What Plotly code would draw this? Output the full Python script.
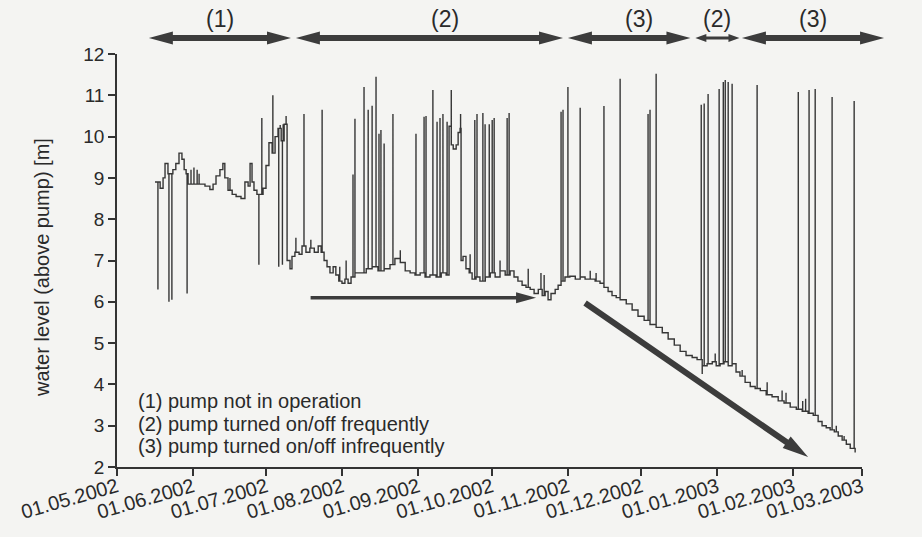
import numpy as np
import pandas as pd
import plotly.graph_objects as go

START = pd.Timestamp("2002-05-01")
END = pd.Timestamp("2003-03-01")

# Logged water level: step values (days since 01.05.2002, metres above pump)
base_day = [15.5, 17.6, 18.8, 19.6, 20.8, 22.8, 24.0, 25.3, 26.5, 27.4, 28.2, 29.0,
            33.9, 35.9, 37.9, 39.2, 40.4, 42.0, 43.2, 44.0, 45.3, 47.0, 48.6, 50.6,
            52.2, 53.5, 54.3, 55.1, 55.9, 57.1, 59.6, 60.8, 62.0, 63.3, 64.5, 65.7,
            67.0, 68.2, 69.4, 70.6, 71.4, 72.6, 74.3, 75.5, 77.1, 78.7, 80.5, 82.1,
            83.3, 84.5, 85.7, 86.9, 88.2, 89.3, 90.5, 91.8, 93.0, 94.3, 95.5, 97.1,
            99.2, 101.7, 104.1, 106.5, 109.0, 111.4, 113.4, 115.6, 117.6, 119.6, 121.6,
            123.7, 125.7, 127.7, 130.2, 132.3, 134.3, 135.5, 136.4, 137.2, 138.4, 139.2,
            140.0, 140.4, 141.2, 142.4, 143.7, 144.9, 146.5, 148.1, 150.3, 152.3, 154.3,
            156.3, 158.4, 160.4, 162.0, 163.6, 165.3, 166.9, 168.6, 170.2, 171.9, 173.5,
            174.7, 175.9, 177.1, 178.8, 180.0, 181.2, 182.8, 184.8, 187.0, 189.0, 191.0,
            193.1, 195.1, 197.1, 198.7, 200.4, 202.0, 203.7, 205.3, 207.8, 210.2, 212.6,
            215.1, 217.5, 220.0, 222.5, 224.9, 227.4, 229.8, 232.2, 234.7, 236.7, 238.8,
            240.8, 242.9, 244.5, 246.1, 247.7, 249.4, 251.0, 252.6, 254.2, 256.3, 258.4,
            260.4, 262.5, 264.9, 267.3, 269.8, 272.2, 274.7, 277.2, 279.6, 282.0, 284.1,
            286.1, 287.7, 289.4, 291.0, 292.7, 294.3, 295.9, 297.6, 299.2, 301.2]
base_level = [8.9, 8.75, 9.0, 9.35, 9.1, 9.2, 9.35, 9.6, 9.45, 9.2, 9.1, 8.85,
              8.85, 8.8, 8.72, 8.85, 9.05, 9.2, 9.35, 9.0, 8.7, 8.6, 8.55, 8.5,
              8.9, 8.8, 9.35, 8.9, 8.7, 8.6, 8.75, 9.3, 9.85, 9.6, 10.0, 10.2,
              9.9, 10.3, 7.0, 6.8, 7.1, 7.2, 7.15, 7.35, 7.2, 7.3, 7.2, 7.35,
              7.2, 7.0, 6.85, 6.7, 6.85, 6.65, 6.5, 6.45, 6.55, 6.45, 6.6, 6.7,
              6.7, 6.8, 6.85, 6.75, 6.8, 6.9, 7.05, 6.95, 6.75, 6.7, 6.65,
              6.7, 6.6, 6.65, 6.6, 6.7, 6.65, 10.25, 9.8, 9.7, 9.8, 10.1,
              10.2, 7.0, 7.1, 6.8, 6.7, 6.55, 6.6, 6.5, 6.6, 6.7, 6.6,
              6.75, 6.65, 6.75, 6.6, 6.5, 6.4, 6.35, 6.3, 6.2, 6.3, 6.15,
              6.25, 6.05, 6.2, 6.3, 6.4, 6.5, 6.6, 6.62, 6.55, 6.6, 6.55,
              6.55, 6.5, 6.45, 6.35, 6.25, 6.15, 6.1, 6.05, 5.95, 5.8, 5.65,
              5.55, 5.45, 5.38, 5.25, 5.1, 4.95, 4.8, 4.7, 4.65, 4.6, 4.45,
              4.5, 4.55, 4.45, 4.5, 4.55, 4.45, 4.5, 4.3, 4.2, 4.05, 3.95,
              3.9, 3.85, 3.75, 3.7, 3.6, 3.55, 3.45, 3.4, 3.35, 3.3, 3.25,
              3.1, 3.0, 2.95, 2.9, 2.85, 2.75, 2.65, 2.55, 2.45, 2.35]

# Short excursions (pump switching): day and the level reached
spike_day = [16.7, 21.2, 22.4, 28.6, 30.2, 31.4, 32.7, 33.5, 46.1, 57.9, 59.1, 63.6,
             66.0, 66.6, 67.5, 67.8, 69.0,
             73.0, 76.3, 79.1, 83.7, 90.9, 93.5, 96.3, 97.1, 100.8, 102.5, 104.1,
             105.7, 106.9, 107.7, 109.0, 112.6, 115.6, 122.0, 125.3, 126.1, 128.9,
             130.6, 131.8, 133.0, 134.7, 136.4, 140.2, 144.1, 146.0, 146.9, 149.3,
             150.2, 151.9, 153.1, 153.9, 156.3, 159.2, 160.0, 167.8, 173.0, 174.3,
             181.2, 182.0, 184.0, 189.0, 193.1, 195.5, 198.7, 205.3, 216.7, 217.5,
             220.0, 238.4, 238.8, 239.6, 241.2, 244.1, 245.7, 247.4, 248.2, 249.4,
             251.0, 255.1, 261.2, 265.3, 271.4, 273.0, 278.0, 279.8, 281.0, 282.4,
             284.9, 291.8, 293.5, 296.7, 300.8]
spike_level = [6.3, 6.0, 6.05, 6.2, 9.2, 9.25, 9.2, 9.1, 9.0, 6.9, 10.45, 11.0,
               6.85, 10.28, 6.9, 10.3, 10.5,
               7.55, 10.55, 7.5, 10.65, 6.85, 7.0, 9.08, 10.43, 11.2, 10.65, 10.75,
               11.45, 10.07, 10.16, 9.83, 10.55, 7.25, 10.07, 10.48, 10.5, 11.13,
               10.36, 10.45, 10.55, 10.36, 11.13, 10.55, 7.15, 10.4, 10.55, 10.57,
               10.3, 10.3, 10.4, 10.45, 7.0, 10.45, 10.57, 6.8, 6.7, 6.65,
               10.6, 10.65, 11.2, 10.7, 6.75, 6.7, 10.74, 11.4, 10.55, 10.65,
               11.52, 10.77, 4.25, 10.8, 11.03, 4.75, 11.15, 11.32, 11.37, 11.32,
               11.28, 4.35, 11.25, 4.05, 3.85, 3.8, 11.08, 3.6, 3.65, 11.13,
               11.15, 10.96, 3.0, 2.75, 10.86]

# Operating periods marked above the plot
period_label = ["(1)", "(2)", "(3)", "(2)", "(3)"]
period_start = ["2002-05-14", "2002-07-13", "2002-11-01", "2002-12-23", "2003-01-11"]
period_end = ["2002-07-11", "2002-10-30", "2002-12-21", "2003-01-10", "2003-03-10"]
period_label_at = ["2002-06-12", "2002-09-12", "2002-11-30", "2003-01-01", "2003-02-09"]

# Trend arrows (date, level) start -> end
trend_start = [("2002-07-19", 6.1), ("2002-11-08", 5.97)]
trend_end = [("2002-10-19", 6.1), ("2003-02-07", 2.24)]

tick_dates = ["2002-05-01", "2002-06-01", "2002-07-01", "2002-08-01", "2002-09-01",
              "2002-10-01", "2002-11-01", "2002-12-01", "2003-01-01", "2003-02-01",
              "2003-03-01"]
tick_text = ["01.05.2002", "01.06.2002", "01.07.2002", "01.08.2002", "01.09.2002",
             "01.10.2002", "01.11.2002", "01.12.2002", "01.01.2003", "01.02.2003",
             "01.03.2003"]

legend_lines = ["(1) pump not in operation",
                "(2) pump turned on/off frequently",
                "(3) pump turned on/off infrequently"]

# ---- assemble the stepped series with its vertical switching lines ----
events = sorted([(d, 0, v) for d, v in zip(base_day, base_level)] +
                [(d, 1, v) for d, v in zip(spike_day, spike_level)])
xs, ys, cur = [], [], None
for d, kind, v in events:
    if kind == 0:
        xs.append(d); ys.append(v); cur = v
    else:
        xs += [d, d, d]; ys += [cur, v, cur]
dates = START + pd.to_timedelta(xs, unit="D")

# ---- layout geometry ----
W, H = 922, 537
ML, MR, MT, MB = 117, 60, 54, 70
PW, PH = W - ML - MR, H - MT - MB
Y0, Y1 = 2, 12
SPAN = (END - START).days
FONT = "Liberation Sans, Arial, sans-serif"
INK = "#363636"
TEXT = "#2a2a2a"


def px_x(date):
    return ML + PW * (pd.Timestamp(date) - START).days / SPAN


def px_y(v):
    return MT + PH * (Y1 - v) / (Y1 - Y0)


def to_paper(px, py):
    return (px - ML) / PW, (MT + PH - py) / PH


def arrow_path(p0, p1, shaft, head_len, head_half, both=False):
    p0, p1 = np.array(p0, float), np.array(p1, float)
    u = (p1 - p0) / np.linalg.norm(p1 - p0)
    n = np.array([-u[1], u[0]])
    b1 = p1 - head_len * u
    b0 = p0 + head_len * u if both else p0
    pts = []
    if both:
        pts += [p0, b0 + head_half * n]
    pts += [b0 + shaft / 2 * n, b1 + shaft / 2 * n, b1 + head_half * n, p1,
            b1 - head_half * n, b1 - shaft / 2 * n, b0 - shaft / 2 * n]
    if both:
        pts += [b0 - head_half * n]
    s = ""
    for i, p in enumerate(pts):
        x, y = to_paper(*p)
        s += ("M" if i == 0 else "L") + f"{x:.5f},{y:.5f} "
    return s + "Z"


fig = go.Figure()
fig.add_trace(go.Scatter(x=dates, y=ys, mode="lines", hoverinfo="skip",
                         line=dict(color=INK, width=1.4, shape="hv")))

shapes, annotations = [], []
ARROW_Y = 38
for lab, s, e, at in zip(period_label, period_start, period_end, period_label_at):
    x0, x1 = px_x(s), px_x(e)
    long_arrow = (x1 - x0) > 80
    shapes.append(dict(type="path", xref="paper", yref="paper", layer="above",
                       path=arrow_path((x0, ARROW_Y), (x1, ARROW_Y),
                                       6 if long_arrow else 3,
                                       24 if long_arrow else 11,
                                       6.5 if long_arrow else 4, both=True),
                       fillcolor="#3c3c3c", line=dict(width=0)))
    ax, ay = to_paper(px_x(at), 19)
    annotations.append(dict(text=lab, x=ax, y=ay, xref="paper", yref="paper",
                            xanchor="center", yanchor="middle", showarrow=False,
                            font=dict(size=23, color=TEXT, family=FONT)))

for k, ((s, v0), (e, v1)) in enumerate(zip(trend_start, trend_end)):
    p0 = (px_x(s), px_y(v0))
    p1 = (px_x(e), px_y(v1))
    shaft, hl, hh = (3.5, 20, 5.5) if k == 0 else (6, 26, 7)
    shapes.append(dict(type="path", xref="paper", yref="paper", layer="above",
                       path=arrow_path(p0, p1, shaft, hl, hh),
                       fillcolor="#3c3c3c", line=dict(width=0)))

for i, txt in enumerate(legend_lines):
    lx, ly = to_paper(136, 401 + 22.5 * i)
    annotations.append(dict(text=txt, x=lx, y=ly, xref="paper", yref="paper",
                            xanchor="left", yanchor="middle", showarrow=False,
                            font=dict(size=20, color=TEXT, family=FONT)))

tx, ty = to_paper(42, 268)
annotations.append(dict(text="water level (above pump) [m]", x=tx, y=ty,
                        xref="paper", yref="paper", textangle=-90,
                        xanchor="center", yanchor="middle", showarrow=False,
                        font=dict(size=20, color=TEXT, family=FONT)))

axis_common = dict(showline=True, linecolor="#333", linewidth=1.5, ticks="outside",
                   ticklen=7, tickwidth=1.5, tickcolor="#333", showgrid=False,
                   zeroline=False)

fig.update_layout(
    width=W, height=H,
    margin=dict(l=ML, r=MR, t=MT, b=MB, autoexpand=False),
    paper_bgcolor="#f4f4f2", plot_bgcolor="#f4f4f2",
    showlegend=False,
    shapes=shapes, annotations=annotations,
    xaxis=dict(type="date", range=[START, END], tickvals=tick_dates,
               ticktext=tick_text, tickangle=-16, automargin=False,
               ticklabelstandoff=-8,
               tickfont=dict(size=20, color=TEXT, family=FONT), **axis_common),
    yaxis=dict(range=[Y0, Y1], dtick=1, tick0=2, automargin=False,
               tickfont=dict(size=19, color=TEXT, family=FONT), **axis_common),
)

fig.write_html("out.html")
